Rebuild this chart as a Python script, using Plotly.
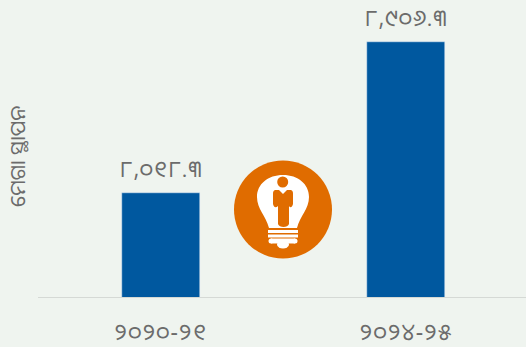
import plotly.graph_objects as go

W, H = 526, 347
categories = ["୨୦୨୦-୨୧", "୨୦୨୪-୨୫"]
values = [8018.3, 8906.3]
value_labels = ["୮,୦୧୮.୩", "୮,୯୦୬.୩"]
y_title = "ମେଗା ସ୍ଥାପନ"
BG = "#eff4ef"
BAR = "#00589f"
ORANGE = "#e06c00"
TXT = "#6b6b6b"
FONT = "Noto Sans Oriya, Noto Sans, DejaVu Sans, sans-serif"
ML, MB = 38, 50

def px(x): return (x - ML) / (W - ML)
def py(y): return 1 - y / (H - MB)
def pth(cmds):
    out = []
    for c in cmds:
        if len(c) == 1:
            out.append(c[0])
        else:
            nums = c[1:]
            pts = " ".join(f"{px(nums[i]):.5f},{py(nums[i+1]):.5f}" for i in range(0, len(nums), 2))
            out.append(c[0] + pts)
    return " ".join(out)

fig = go.Figure(go.Bar(x=categories, y=values, marker_color=BAR, width=0.318, hoverinfo="skip"))

shapes = []
def ell(cx, cy, rx, ry, col):
    shapes.append(dict(type="circle", xref="paper", yref="paper", x0=px(cx-rx), x1=px(cx+rx),
                       y0=py(cy+ry), y1=py(cy-ry), fillcolor=col, line_width=0, layer="above"))
def rect(x0, y0, x1, y1, col):
    shapes.append(dict(type="rect", xref="paper", yref="paper", x0=px(x0), x1=px(x1),
                       y0=py(y1), y1=py(y0), fillcolor=col, line_width=0, layer="above"))
ell(283, 209.5, 49, 49, ORANGE)
shapes.append(dict(type="path", xref="paper", yref="paper", fillcolor="white", line_width=0, layer="above",
    path=pth([("M", 269, 228), ("C", 266, 216, 257, 209, 257, 197), ("C", 257, 184, 268, 175, 283, 175),
              ("C", 298, 175, 309, 184, 309, 197), ("C", 309, 209, 300, 216, 297, 228), ("Z",)])))
rect(268, 230, 298, 233, "white")
rect(268, 234.5, 298, 237.5, "white")
ell(271, 241, 2.5, 2.5, "white")
ell(295, 241, 2.5, 2.5, "white")
rect(271, 238.5, 295, 243.5, "white")
ell(283, 244.5, 6, 4, "white")
ell(282.7, 182, 5.5, 5.5, ORANGE)
shapes.append(dict(type="path", xref="paper", yref="paper", fillcolor=ORANGE, line_width=0, layer="above",
    path=pth([("M", 275, 190), ("L", 279, 190), ("L", 283, 194), ("L", 287, 190), ("L", 291, 190),
              ("C", 293, 191, 293, 192, 293, 194), ("L", 293, 204), ("C", 292, 208, 290, 208, 289, 206),
              ("L", 289, 224), ("C", 288, 228, 279, 228, 278, 224), ("L", 278, 206),
              ("C", 276, 208, 274, 208, 273, 204), ("L", 273, 194), ("C", 273, 192, 273, 191, 275, 190), ("Z",)])))

annotations = [dict(text=y_title, xref="paper", yref="paper", x=px(17), y=py(157), textangle=-90,
                    xanchor="center", yanchor="middle", showarrow=False,
                    font=dict(size=21, color=TXT, family=FONT))]
for c, v, t in zip(categories, values, value_labels):
    annotations.append(dict(x=c, y=v, text=t, xref="x", yref="y", showarrow=False, yshift=25,
                            font=dict(size=23, color=TXT, family=FONT)))

fig.update_layout(
    width=W, height=H, autosize=False, paper_bgcolor=BG, plot_bgcolor=BG, showlegend=False,
    margin=dict(l=ML, r=0, t=0, b=MB), font=dict(family=FONT, color=TXT),
    bargap=0, shapes=shapes, annotations=annotations,
    xaxis=dict(type="category", range=[-0.5, 1.49], showline=True, linecolor="#d5d9d5", linewidth=1,
               ticks="", ticklabelstandoff=14, tickfont=dict(size=23, color=TXT, family=FONT), showgrid=False),
    yaxis=dict(range=[7406, 9153], visible=False, fixedrange=True),
)
spacing_js = """
document.body.style.margin='0';
document.documentElement.style.background='#eff4ef';
document.querySelectorAll('.xtick text').forEach(function(n){n.style.letterSpacing='1px';});
document.querySelectorAll('.annotation-text').forEach(function(n){
  if(n.textContent.indexOf(',')>=0){n.style.letterSpacing='1px';}
});
"""
fig.write_html("out.html", config=dict(displayModeBar=False), post_script=spacing_js)
